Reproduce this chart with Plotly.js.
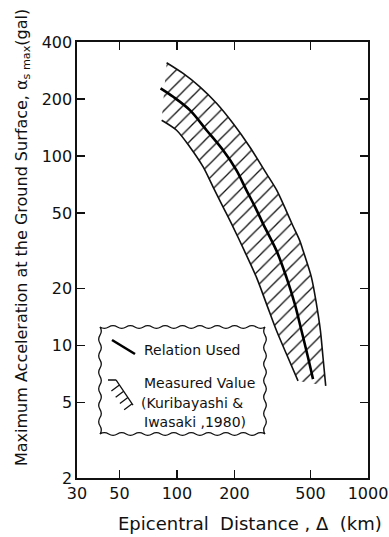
<!DOCTYPE html>
<html>
<head>
<meta charset="utf-8">
<script src="https://cdn.plot.ly/plotly-3.0.1.min.js"></script>
<style>html,body{margin:0;padding:0;background:#fff;}#chart{width:389px;height:537px;}</style>
</head>
<body>
<div id="chart"></div>
<script>
// Upper and lower bounds of the measured band (Kuribayashi & Iwasaki, 1980)
const upperX = [88.3, 107.8, 131.9, 161.2, 196.9, 240.7, 294.2, 333.2, 366.7, 403.9, 439.3, 457.2, 505.8, 537.1, 563.6, 581.6, 600.8];
const upperY = [311, 273, 232, 190, 148.5, 111.7, 80.8, 65.9, 53.6, 43.0, 35.8, 31.7, 22.9, 16.6, 12.0, 8.65, 6.13];
const lowerX = [83.2, 99.6, 116.9, 137.2, 154.7, 174.5, 196.9, 225.3, 260.9, 294.2, 331.9, 374.3, 430.4];
const lowerY = [154.6, 136.9, 111.7, 87.6, 68.6, 53.8, 42.2, 31.7, 22.9, 16.6, 12.0, 9.02, 6.51];
// Relation used
const centralX = [82.1, 95.6, 116.9, 142.9, 174.5, 205.1, 231.3, 255.6, 282.5, 331.9, 374.3, 413.8, 448.5, 485.5, 515.5];
const centralY = [227.6, 205.5, 174.7, 136.9, 107.3, 84.1, 65.9, 54.3, 43.9, 31.7, 22.9, 16.6, 12.0, 8.65, 6.65];

const xTicks = [30, 50, 100, 200, 500, 1000];
const yTicks = [2, 5, 10, 20, 50, 100, 200, 400];

const FONT = 'DejaVu Sans, sans-serif';

// pixel -> paper helpers for decoration (legend box)
const L = 77, T = 42, W = 291, H = 436;
function px(x) { return (x - L) / W; }
function py(y) { return (T + H - y) / H; }
function P(x, y) { return px(x).toFixed(4) + ',' + py(y).toFixed(4); }

function wavyBox(x0, y0, x1, y1, period, amp) {
  let d = 'M' + P(x0, y0);
  function edge(ax, ay, bx, by) {
    const len = Math.hypot(bx - ax, by - ay);
    const n = Math.max(1, Math.round(len / period));
    const ux = (bx - ax) / n, uy = (by - ay) / n;
    const nx = -uy / Math.hypot(ux, uy), ny = ux / Math.hypot(ux, uy);
    for (let i = 0; i < n; i++) {
      const sx = ax + ux * i, sy = ay + uy * i;
      const s = (i % 2 === 0) ? 1 : -1;
      const cx = sx + ux / 2 + nx * amp * 2 * s, cy = sy + uy / 2 + ny * amp * 2 * s;
      d += ' Q' + P(cx, cy) + ' ' + P(sx + ux, sy + uy);
    }
  }
  edge(x0, y0, x1, y0);
  edge(x1, y0, x1, y1);
  edge(x1, y1, x0, y1);
  edge(x0, y1, x0, y0);
  return d + ' Z';
}

const bandX = upperX.concat(lowerX.slice().reverse());
const bandY = upperY.concat(lowerY.slice().reverse());

const traces = [
  {
    x: bandX, y: bandY, mode: 'lines', fill: 'toself',
    line: {width: 0, color: 'rgba(0,0,0,0)'},
    fillcolor: 'white',
    fillpattern: {shape: '/', size: 10, solidity: 0.13, fgcolor: '#111', bgcolor: 'white'},
    hoverinfo: 'skip', showlegend: false
  },
  {x: upperX, y: upperY, mode: 'lines', line: {color: '#111', width: 1.6, shape: 'spline', smoothing: 0.8}, showlegend: false, hoverinfo: 'skip'},
  {x: lowerX, y: lowerY, mode: 'lines', line: {color: '#111', width: 1.6, shape: 'spline', smoothing: 0.8}, showlegend: false, hoverinfo: 'skip'},
  {x: centralX, y: centralY, mode: 'lines', line: {color: '#000', width: 2.6, shape: 'spline', smoothing: 1}, showlegend: false, hoverinfo: 'skip'}
];

// legend hatch glyph: slanted boundary with short strokes hanging down-left
let hatch = 'M' + P(108, 380) + ' L' + P(116, 380) + ' M' + P(116, 380) + ' L' + P(133, 405);
for (let i = 0; i < 4; i++) {
  const t = 0.2 + i * 0.25;
  const sx = 116 + 17 * t, sy = 380 + 25 * t;
  hatch += ' M' + P(sx, sy) + ' L' + P(sx - 8, sy + 6);
}

const shapes = [
  {type: 'path', xref: 'paper', yref: 'paper', path: wavyBox(100, 327, 265, 434, 8.5, 1.3), line: {color: '#111', width: 1.3}, fillcolor: 'rgba(0,0,0,0)'},
  {type: 'path', xref: 'paper', yref: 'paper', path: 'M' + P(112, 340) + ' L' + P(135, 354), line: {color: '#000', width: 2.6}},
  {type: 'path', xref: 'paper', yref: 'paper', path: hatch, line: {color: '#111', width: 1.3}}
];

function ann(text, x, y, size, extra) {
  return Object.assign({text: text, xref: 'paper', yref: 'paper', x: px(x), y: py(y), xanchor: 'left', yanchor: 'middle', showarrow: false, font: {family: FONT, size: size, color: '#111'}}, extra || {});
}

const annotations = [
  ann('Relation Used', 142, 350, 14),
  ann('Measured Value', 142, 383, 14),
  ann('(Kuribayashi &amp;', 139, 403, 14),
  ann('Iwasaki ,1980)', 142, 422, 14),
  ann('Epicentral  Distance , Δ  (km)', 250, 523, 18, {xanchor: 'center'}),
  ann('Maximum Acceleration at the Ground Surface, α<sub>s max</sub>(gal)', 22, 238, 16, {xanchor: 'center', textangle: -90})
];

const layout = {
  width: 389, height: 537,
  margin: {l: L, r: 389 - L - W, t: T, b: 537 - T - H},
  paper_bgcolor: 'white', plot_bgcolor: 'white',
  showlegend: false,
  font: {family: FONT, color: '#111'},
  xaxis: {
    type: 'log', range: [Math.log10(30), 3],
    tickvals: xTicks, ticktext: xTicks.map(String),
    ticks: 'inside', ticklen: 8, tickwidth: 1.3, tickcolor: '#111',
    showline: true, linecolor: '#111', linewidth: 1.6, mirror: 'allticks',
    showgrid: false, zeroline: false,
    tickfont: {family: FONT, size: 16, color: '#111'}
  },
  yaxis: {
    type: 'log', range: [Math.log10(2), Math.log10(400)],
    tickvals: yTicks, ticktext: yTicks.map(String),
    ticks: 'inside', ticklen: 8, tickwidth: 1.3, tickcolor: '#111',
    showline: true, linecolor: '#111', linewidth: 1.6, mirror: 'allticks',
    showgrid: false, zeroline: false,
    tickfont: {family: FONT, size: 16, color: '#111'}
  },
  shapes: shapes,
  annotations: annotations
};

Plotly.newPlot('chart', traces, layout, {staticPlot: true, displayModeBar: false});
</script>
</body>
</html>
